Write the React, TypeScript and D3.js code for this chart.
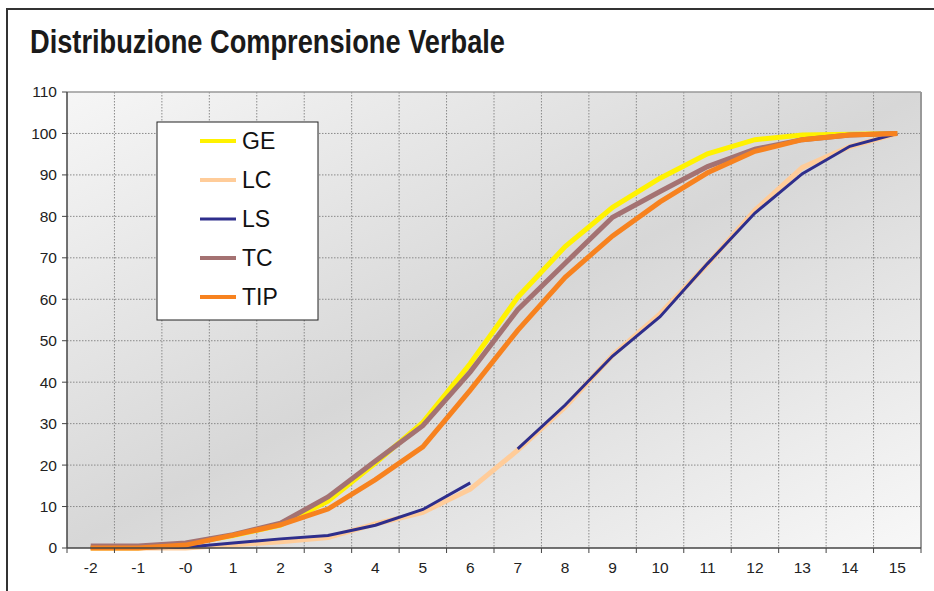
import React from "react";
import * as d3 from "d3";

const title = "Distribuzione Comprensione Verbale";
const categories = ["-2", "-1", "-0", "1", "2", "3", "4", "5", "6", "7", "8", "9", "10", "11", "12", "13", "14", "15"];
const yTicks = [0, 10, 20, 30, 40, 50, 60, 70, 80, 90, 100, 110];

const GE = [0, 0, 1, 3, 5.5, 11.3, 20.5, 30.3, 44.5, 60.5, 72.7, 82.2, 89.2, 95.1, 98.5, 99.6, 99.8, 100];
const LC = [0, 0, 0, 0.8, 1.5, 2.5, 5.8, 8.6, 14.2, 23.6, 34, 46.5, 56.5, 68.5, 81.5, 91.8, 96.8, 100];
const LS = [0, 0, 0.2, 1.2, 2.2, 3.0, 5.5, 9.3, 15.7, 23.9, 34.5, 46.3, 55.8, 68.6, 80.8, 90.3, 96.9, 100];
const TC = [0.5, 0.5, 1.2, 3.2, 6, 12.3, 21, 29.5, 42.5, 57.5, 68.7, 79.8, 86, 92, 96.2, 98.5, 99.6, 100];
const TIP = [0, 0, 0.7, 3.1, 5.6, 9.4, 16.5, 24.4, 38.1, 52.5, 65.3, 75.3, 83.5, 90.5, 95.7, 98.5, 99.6, 100];

// LS is drawn in pieces: the segment right after this category index is not shown in the reference
const lsGapAfter = 8;

const series = [
  { name: "GE", values: GE, color: "#FFF200", width: 5 },
  { name: "LC", values: LC, color: "#FFCC99", width: 5 },
  { name: "LS", values: LS, color: "#2E2E8C", width: 3 },
  { name: "TC", values: TC, color: "#A47272", width: 5 },
  { name: "TIP", values: TIP, color: "#F7821F", width: 5 },
];

export default function App() {
  const W = 934, H = 591;
  const left = 67, right = 921, top = 92, bottom = 548;

  const xBand = d3.scaleBand<string>().domain(categories).range([left, right]).paddingInner(0).paddingOuter(0);
  const xc = (i: number) => (xBand(categories[i]) as number) + xBand.bandwidth() / 2;
  const y = d3.scaleLinear().domain([0, 110]).range([bottom, top]);

  const line = d3.line<[number, number]>().x((d) => xc(d[0])).y((d) => y(d[1]));
  const pathFor = (vals: number[], name: string) => {
    const pts: [number, number][] = vals.map((v, i) => [i, v]);
    if (name === "LS") {
      return (line(pts.slice(0, lsGapAfter + 1)) || "") + " " + (line(pts.slice(lsGapAfter + 1)) || "");
    }
    return line(pts) || "";
  };

  const boundaries = d3.range(categories.length + 1).map((k) => left + k * xBand.bandwidth());
  const fontFam = "'Liberation Sans', Arial, sans-serif";

  return (
    <svg width={W} height={H} style={{ position: "absolute", left: 0, top: 0, background: "#fff" }}>
      <defs>
        <linearGradient id="bg" x1="0" y1="0" x2="1" y2="1">
          <stop offset="0" stopColor="#f6f6f6" />
          <stop offset="0.5" stopColor="#d7d7d7" />
          <stop offset="1" stopColor="#f8f8f8" />
        </linearGradient>
      </defs>
      <rect x={7} y={9} width={W + 20} height={H + 20} fill="#fff" stroke="#333" strokeWidth={2} />
      <text
        x={30}
        y={53}
        fontFamily="'Liberation Sans Narrow', 'Arial Narrow', 'Liberation Sans', Arial, sans-serif"
        fontWeight="bold"
        fontSize={33}
        fill="#1a1a1a"
        textLength={475}
        lengthAdjust="spacingAndGlyphs"
      >
        {title}
      </text>

      <rect x={left} y={top} width={right - left} height={bottom - top} fill="url(#bg)" />

      {yTicks.slice(1, -1).map((t) => (
        <line key={"h" + t} x1={left} x2={right} y1={y(t)} y2={y(t)} stroke="#8a8a8a" strokeWidth={1} strokeDasharray="1.5,1.5" />
      ))}
      {boundaries.slice(1, -1).map((bx, k) => (
        <line key={"v" + k} x1={bx} x2={bx} y1={top} y2={bottom} stroke="#8a8a8a" strokeWidth={1} strokeDasharray="1.5,1.5" />
      ))}
      <line x1={left} x2={right} y1={top} y2={top} stroke="#999" strokeWidth={1.5} />
      <line x1={right} x2={right} y1={top} y2={bottom} stroke="#999" strokeWidth={2} />

      {series.map((s) => (
        <path key={s.name} d={pathFor(s.values, s.name)} fill="none" stroke={s.color} strokeWidth={s.width} strokeLinejoin="miter" strokeLinecap="butt" />
      ))}

      <line x1={left} x2={left} y1={top} y2={bottom} stroke="#444" strokeWidth={1.5} />
      <line x1={left} x2={right} y1={bottom} y2={bottom} stroke="#444" strokeWidth={1.5} />
      {yTicks.map((t) => (
        <g key={"yt" + t}>
          <line x1={left - 5} x2={left} y1={y(t)} y2={y(t)} stroke="#444" strokeWidth={1} />
          <text x={left - 10} y={y(t)} dy="0.35em" textAnchor="end" fontFamily={fontFam} fontSize={15.5} fill="#222">
            {t}
          </text>
        </g>
      ))}
      {boundaries.map((bx, k) => (
        <line key={"xt" + k} x1={bx} x2={bx} y1={bottom} y2={bottom + 5} stroke="#444" strokeWidth={1} />
      ))}
      {categories.map((c, i) => (
        <text key={"xl" + c} x={xc(i)} y={573} textAnchor="middle" fontFamily={fontFam} fontSize={15.5} fill="#222">
          {c}
        </text>
      ))}

      <rect x={157} y={122} width={161} height={198} fill="#fff" stroke="#222" strokeWidth={1} />
      {series.map((s, i) => {
        const ly = 141 + i * 39;
        return (
          <g key={"lg" + s.name}>
            <line x1={200} x2={236} y1={ly} y2={ly} stroke={s.color} strokeWidth={s.width === 3 ? 3 : 4} />
            <text x={242} y={ly} dy="0.36em" fontFamily={fontFam} fontSize={23} fill="#111">
              {s.name}
            </text>
          </g>
        );
      })}
    </svg>
  );
}
